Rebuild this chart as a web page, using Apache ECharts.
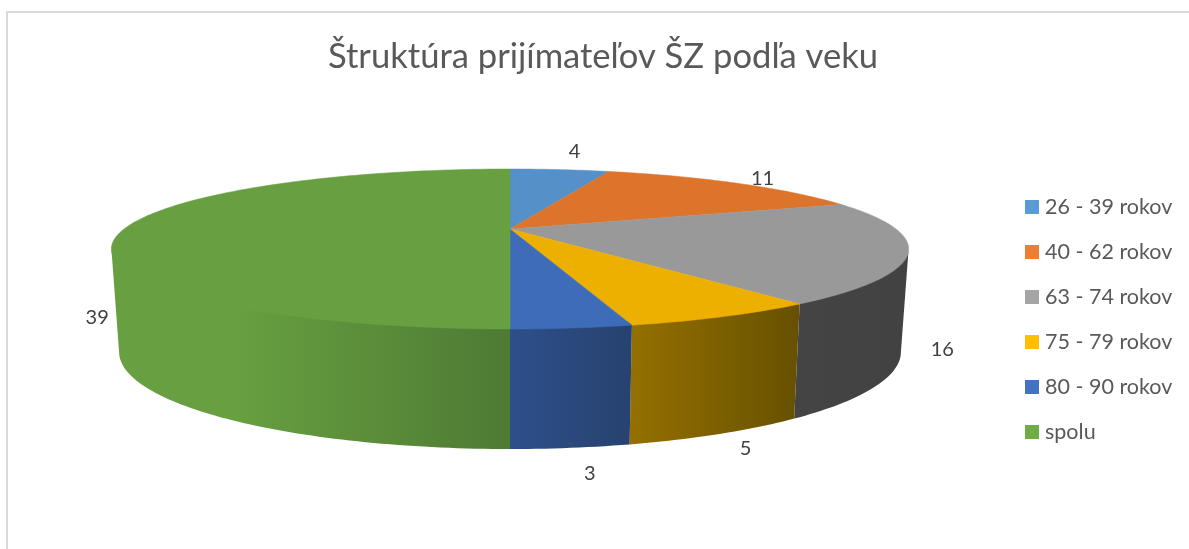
<!DOCTYPE html>
<html>
<head>
<meta charset="utf-8">
<script src="https://cdn.jsdelivr.net/npm/echarts@6/dist/echarts.min.js"></script>
<style>
  html, body { margin: 0; padding: 0; background: #fff; }
  #chart { width: 1189px; height: 549px; }
</style>
</head>
<body>
<div id="chart"></div>
<script>
const categories = ['26 - 39 rokov', '40 - 62 rokov', '63 - 74 rokov', '75 - 79 rokov', '80 - 90 rokov', 'spolu']
const values = [4, 11, 16, 5, 3, 39]

const legendColors = ['#5b9bd5', '#ed7d31', '#a5a5a5', '#ffc000', '#4472c4', '#70ad47']
const topColors = ['#5591c8', '#dc742c', '#999999', '#eeb000', '#3f6cb9', '#68a041']
const sideStops = [
  [[0, '#3a648c'], [1, '#3a648c']],
  [[0, '#9c4f1c'], [1, '#9c4f1c']],
  [[0, '#444444'], [1, '#424242']],
  [[0, '#957000'], [1, '#665000']],
  [[0, '#2d4f8a'], [1, '#27426f']],
  [[0, '#68a041'], [0.3, '#68a041'], [1, '#4e7a33']],
]
const labelOffsets = [[15, -18], [26, -5], [67, -37], [26, 15], [19, 26], [-124, -100]]

// perspective of the disc: p tilts the far side back
const p = 0.25
const topDisc = { cx: 510, cy: 229, a: 386, b: 75 }
const baseDisc = { cx: 510, cy: 327.7, a: 378.5, b: 91 }
// side walls start a little under the top face so no white seam shows
const sideDisc = { cx: 510, cy: 229, a: 386, b: 72 }
const sideStart = 104.5
const sideEnd = 255.5

const total = values.reduce((s, v) => s + v, 0)
const starts = values.map((_, i) => values.slice(0, i).reduce((s, v) => s + v, 0) / total * 360)

const project = (disc, deg) => {
  const t = deg * Math.PI / 180
  const u = Math.sin(t)
  const v = Math.cos(t)
  const w = 1 + p * v
  return [disc.cx + disc.a * u / w, disc.cy - disc.b * v / w]
}

const arc = (disc, from, to) => {
  const n = Math.max(2, Math.ceil(Math.abs(to - from)))
  const pts = []
  for (let i = 0; i <= n; i++) pts.push(project(disc, from + (to - from) * i / n))
  return pts
}

const sweep = (i, value) => [starts[i], starts[i] + value / total * 360]

const renderSide = (i) => (params, api) => {
  const [a0, a1] = sweep(i, api.value(0))
  const from = Math.max(a0, sideStart)
  const to = Math.min(a1, sideEnd)
  if (to <= from) return null
  return {
    type: 'polygon',
    shape: { points: arc(sideDisc, from, to).concat(arc(baseDisc, to, from)) },
    style: {
      fill: new echarts.graphic.LinearGradient(0, 0, 1, 0, sideStops[i].map(([offset, color]) => ({ offset, color }))),
      stroke: null,
    },
  }
}

const renderTop = (i) => (params, api) => {
  const [a0, a1] = sweep(i, api.value(0))
  const mid = project(topDisc, (a0 + a1) / 2)
  const edge = i >= 2 ? project(baseDisc, (Math.max(a0, sideStart) + Math.min(a1, sideEnd)) / 2) : mid
  return {
    type: 'group',
    children: [
      {
        type: 'polygon',
        shape: { points: [[topDisc.cx, topDisc.cy]].concat(arc(topDisc, a0, a1)) },
        style: { fill: topColors[i], stroke: topColors[i], lineWidth: 0.5 },
      },
      {
        type: 'text',
        z2: 10,
        style: {
          text: String(api.value(0)),
          x: edge[0] + labelOffsets[i][0],
          y: edge[1] + labelOffsets[i][1],
          fill: '#404040',
          font: '20px Lato',
          align: 'center',
          verticalAlign: 'middle',
        },
      },
    ],
  }
}

const chart = echarts.init(document.getElementById('chart'), null, { renderer: 'canvas' })

chart.setOption({
  animation: false,
  backgroundColor: '#ffffff',
  title: {
    text: 'Štruktúra prijímateľov ŠZ podľa veku',
    left: 598,
    top: 34,
    textAlign: 'center',
    textStyle: { color: '#595959', fontSize: 34.6, fontWeight: 'normal', fontFamily: 'Lato' },
  },
  legend: {
    orient: 'vertical',
    left: 1020,
    top: 191,
    icon: 'rect',
    itemWidth: 14,
    itemHeight: 14,
    itemGap: 23,
    data: categories,
    textStyle: { color: '#595959', fontSize: 21.5, fontFamily: 'Lato', padding: [0, 0, 0, 1] },
  },
  graphic: [
    { type: 'line', shape: { x1: 7, y1: 12, x2: 7, y2: 549 }, style: { stroke: '#d9d9d9', lineWidth: 2 } },
    { type: 'line', shape: { x1: 6, y1: 12, x2: 1189, y2: 12 }, style: { stroke: '#d9d9d9', lineWidth: 2 } },
  ],
  series: [
    ...categories.map((name, i) => ({
      type: 'custom',
      name: name + ' side',
      coordinateSystem: 'none',
      z: 1,
      silent: true,
      renderItem: renderSide(i),
      data: [[values[i]]],
    })),
    ...categories.map((name, i) => ({
      type: 'custom',
      name,
      coordinateSystem: 'none',
      z: 2,
      silent: true,
      itemStyle: { color: legendColors[i] },
      renderItem: renderTop(i),
      data: [[values[i]]],
    })),
  ],
})
</script>
</body>
</html>
